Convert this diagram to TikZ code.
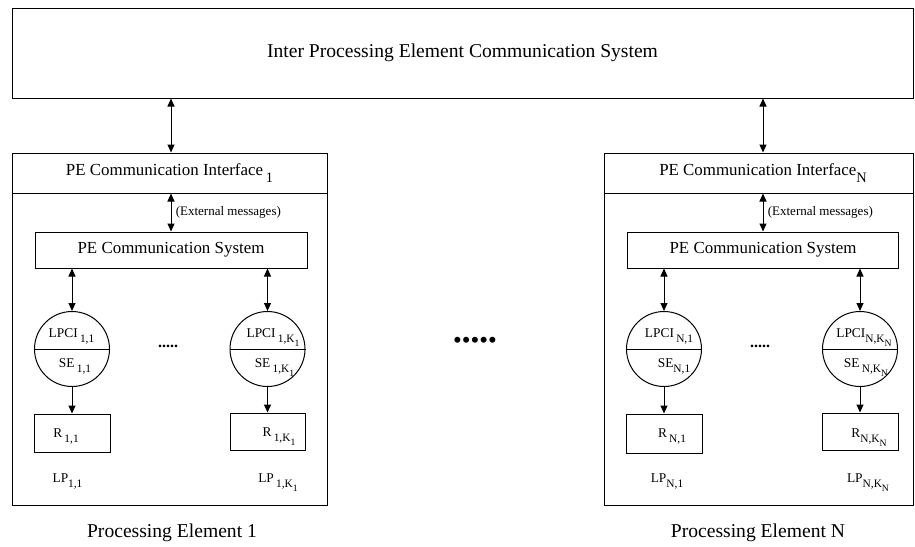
\documentclass[tikz,border=0pt]{standalone}
\usepackage{fontspec}
\setmainfont{Liberation Serif}
\usepackage{graphicx}
\usetikzlibrary{arrows.meta,calc}
\newcommand{\sbs}[1]{\raisebox{-0.4em}{\scalebox{0.85}{#1}}}
\begin{document}
\begin{tikzpicture}[x=1pt,y=-1pt,
  box/.style={draw, line width=1pt, inner sep=0pt},
  circ/.style={draw, circle, minimum size=75pt, inner sep=0pt, line width=1pt},
  fbig/.style={font=\fontsize{19.6}{23}\selectfont},
  fmid/.style={font=\fontsize{16.9}{20}\selectfont},
  fsmall/.style={font=\fontsize{13}{15}\selectfont},
  flab/.style={font=\fontsize{13.4}{15}\selectfont, anchor=base, inner sep=0pt},
  dbl/.style={{Triangle[length=8pt,width=7pt]}-{Triangle[length=8pt,width=7pt]}, line width=1pt},
  sgl/.style={-{Triangle[length=8pt,width=7pt]}, line width=1pt}]
\useasboundingbox (0,0) rectangle (915,546);

% top system
\node[box, fbig, minimum width=901pt, minimum height=90pt] (ipec) at (462.5,53) {Inter Processing Element Communication System};

% ---------- PE 1 ----------
\node[box, minimum width=315pt, minimum height=352pt] (pe1) at (169.5,329) {};
\node[box, fmid, minimum width=315pt, minimum height=40pt] (ifc1) at (169.5,173) {PE Communication Interface\,\sbs{1}};
\node[box, fmid, minimum width=272pt, minimum height=36pt] (pcs1) at (171,250) {PE Communication System};
\node[circ] (c11) at (72,349) {};
\node[circ] (c1k) at (267.5,349) {};
\draw[line width=1pt] (c11.west) -- (c11.east);
\draw[line width=1pt] (c1k.west) -- (c1k.east);
\node[flab] (t11a) at (71.5,337) {LPCI\,\sbs{1,1}};
\node[flab] (t11b) at (75,367) {SE\,\sbs{1,1}};
\node[flab] (t1ka) at (273,337) {LPCI\,\sbs{1,K\sbs{1}}};
\node[flab] (t1kb) at (274.5,367) {SE\,\sbs{1,K\sbs{1}}};
\node[box, minimum width=76pt, minimum height=38pt] (r11) at (72,433) {};
\node[box, minimum width=75pt, minimum height=37pt] (r1k) at (267.5,431.5) {};
\node[flab] (r11t) at (66,437) {R\,\sbs{1,1}};
\node[flab] (r1kt) at (279,436) {R\,\sbs{1,K\sbs{1}}};
\node[flab] (lp11) at (67.5,482) {LP\sbs{1,1}};
\node[flab] (lp1k) at (278,482) {LP\,\sbs{1,K\sbs{1}}};
\node[font=\fontsize{16}{18}\selectfont\bfseries, inner sep=0pt] (d1) at (168,346) {.....};
\node[fbig] (pe1t) at (172,533) {Processing Element 1};

\draw[dbl] (ipec.south -| pcs1.center) -- (ifc1.north -| pcs1.center);
\draw[dbl] (ifc1.south -| pcs1.center) -- node[right, fsmall, xshift=1pt] (ext1) {(External messages)} (pcs1.north);
\draw[dbl] (pcs1.south -| c11.center) -- (c11.north);
\draw[dbl] (pcs1.south -| c1k.center) -- (c1k.north);
\draw[sgl] (c11.south) -- (r11.north);
\draw[sgl] (c1k.south) -- (r1k.north);

% middle dots
\node[font=\fontsize{25}{28}\selectfont, inner sep=0pt] (mdots) at (475,343) {•••••};

% ---------- PE N ----------
\node[box, minimum width=309pt, minimum height=352pt] (peN) at (759,329) {};
\node[box, fmid, minimum width=309pt, minimum height=40pt] (ifcN) at (759,173) {\hspace*{8pt}PE Communication Interface\sbs{N}};
\node[box, fmid, minimum width=271pt, minimum height=36pt] (pcsN) at (763,250) {PE Communication System};
\node[circ] (cN1) at (664,349) {};
\node[circ] (cNk) at (860,349) {};
\draw[line width=1pt] (cN1.west) -- (cN1.east);
\draw[line width=1pt] (cNk.west) -- (cNk.east);
\node[flab] (tN1a) at (669,337) {LPCI\,\sbs{N,1}};
\node[flab] (tN1b) at (674,367) {SE\sbs{N,1}};
\node[flab] (tNka) at (864,337) {LPCI\sbs{N,K\sbs{N}}};
\node[flab] (tNkb) at (866,367) {SE\,\sbs{N,K\sbs{N}}};
\node[box, minimum width=76pt, minimum height=39pt] (rN1) at (664,433.5) {};
\node[box, minimum width=76pt, minimum height=37pt] (rNk) at (860,431.5) {};
\node[flab] (rN1t) at (672,437) {R\,\sbs{N,1}};
\node[flab] (rNkt) at (869,437) {R\sbs{N,K\sbs{N}}};
\node[flab] (lpN1) at (667,482) {LP\sbs{N,1}};
\node[flab] (lpNk) at (868,482) {LP\sbs{N,K\sbs{N}}};
\node[font=\fontsize{16}{18}\selectfont\bfseries, inner sep=0pt] (dN) at (760,346) {.....};
\node[fbig] (peNt) at (758,533) {Processing Element N};

\draw[dbl] (ipec.south -| pcsN.center) -- (ifcN.north -| pcsN.center);
\draw[dbl] (ifcN.south -| pcsN.center) -- node[right, fsmall, xshift=1pt] (extN) {(External messages)} (pcsN.north);
\draw[dbl] (pcsN.south -| cN1.center) -- (cN1.north);
\draw[dbl] (pcsN.south -| cNk.center) -- (cNk.north);
\draw[sgl] (cN1.south) -- (rN1.north);
\draw[sgl] (cNk.south) -- (rNk.north);
\end{tikzpicture}
\end{document}
